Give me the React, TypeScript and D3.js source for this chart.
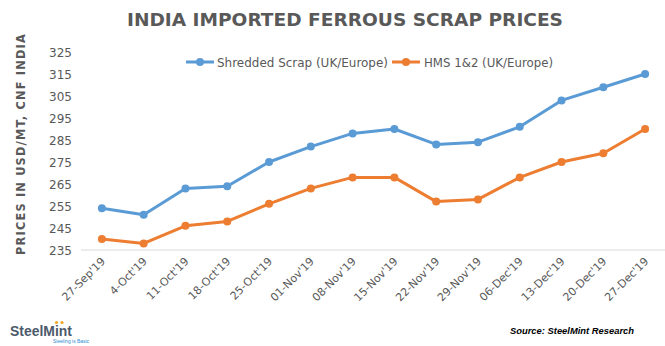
import React from "react";
import * as d3 from "d3";

const categories = ["27-Sep'19", "4-Oct'19", "11-Oct'19", "18-Oct'19", "25-Oct'19", "01-Nov'19", "08-Nov'19", "15-Nov'19", "22-Nov'19", "29-Nov'19", "06-Dec'19", "13-Dec'19", "20-Dec'19", "27-Dec'19"];
const shredded = [254, 251, 263, 264, 275, 282, 288, 290, 283, 284, 291, 303, 309, 315];
const hms = [240, 238, 246, 248, 256, 263, 268, 268, 257, 258, 268, 275, 279, 290];
const yTicks = [235, 245, 255, 265, 275, 285, 295, 305, 315, 325];
const seriesNames = ["Shredded Scrap (UK/Europe)", "HMS 1&2 (UK/Europe)"];
const colors = ["#5B9BD5", "#ED7D31"];

const W = 665, H = 346;
const left = 81, right = 666, top = 52, bottom = 250;

export default function App() {
  const x = d3.scalePoint<string>().domain(categories).range([left, right]).padding(0.5);
  const y = d3.scaleLinear().domain([235, 325]).range([bottom, top]);
  const line = d3.line<number>().x((_, i) => x(categories[i])!).y(d => y(d));
  const series = [shredded, hms];
  const font = "'DejaVu Sans', Verdana, sans-serif";
  const legend = [{ lx: 186, tx: 217, tl: 171 }, { lx: 392, tx: 424, tl: 129 }];
  return (
    <svg width={W} height={H} style={{ position: "absolute", left: 0, top: 0, background: "#fff" }} fontFamily={font}>
      <text x={127} y={26} fontSize={18.5} fontWeight="bold" fill="#595959" textLength={436} lengthAdjust="spacingAndGlyphs">INDIA IMPORTED FERROUS SCRAP PRICES</text>
      <text transform="translate(25,144) rotate(-90)" textAnchor="middle" fontSize={12} fontWeight="bold" fill="#595959" letterSpacing={1.3} textLength={222} lengthAdjust="spacingAndGlyphs">PRICES IN USD/MT, CNF INDIA</text>
      {yTicks.map(t => (
        <text key={t} x={72} y={y(t) + 4.5} textAnchor="end" fontSize={12} fill="#595959">{t}</text>
      ))}
      <line x1={left} x2={W} y1={bottom} y2={bottom} stroke="#d9d9d9" strokeWidth={1} />
      {categories.map(c => (
        <text key={c} transform={`translate(${x(c)! + 4},${262}) rotate(-45)`} textAnchor="end" fontSize={11} fill="#595959">{c}</text>
      ))}
      {series.map((s, k) => (
        <g key={k}>
          <path d={line(s)!} fill="none" stroke={colors[k]} strokeWidth={3} strokeLinejoin="round" />
          {s.map((v, i) => (
            <circle key={i} cx={x(categories[i])} cy={y(v)} r={4} fill={colors[k]} />
          ))}
        </g>
      ))}
      {legend.map((p, k) => (
        <g key={k}>
          <line x1={p.lx} x2={p.lx + 28} y1={62} y2={62} stroke={colors[k]} strokeWidth={3} />
          <circle cx={p.lx + 14} cy={62} r={4} fill={colors[k]} />
          <text x={p.tx} y={66.5} fontSize={12.5} fill="#595959" textLength={p.tl} lengthAdjust="spacingAndGlyphs">{seriesNames[k]}</text>
        </g>
      ))}
      <g fontFamily="'Liberation Sans', Arial, sans-serif">
        <text x={10} y={335.5} fontSize={15.5} fontWeight="bold" fill="#4d5a6b" textLength={62} lengthAdjust="spacingAndGlyphs">SteelMint</text>
        <circle cx={56.5} cy={322.5} r={1.6} fill="#F5A623" />
        <circle cx={62} cy={322.5} r={1.6} fill="#F5A623" />
        <text x={53} y={343} fontSize={4.5} fill="#2E8BD0" textLength={36} lengthAdjust="spacingAndGlyphs">Steeling is Basic</text>
      </g>
      <text x={510} y={334} fontSize={9.5} fontWeight="bold" fontStyle="italic" fill="#000" fontFamily="'Liberation Sans', Arial, sans-serif" textLength={124} lengthAdjust="spacingAndGlyphs">Source: SteelMint Research</text>
    </svg>
  );
}
